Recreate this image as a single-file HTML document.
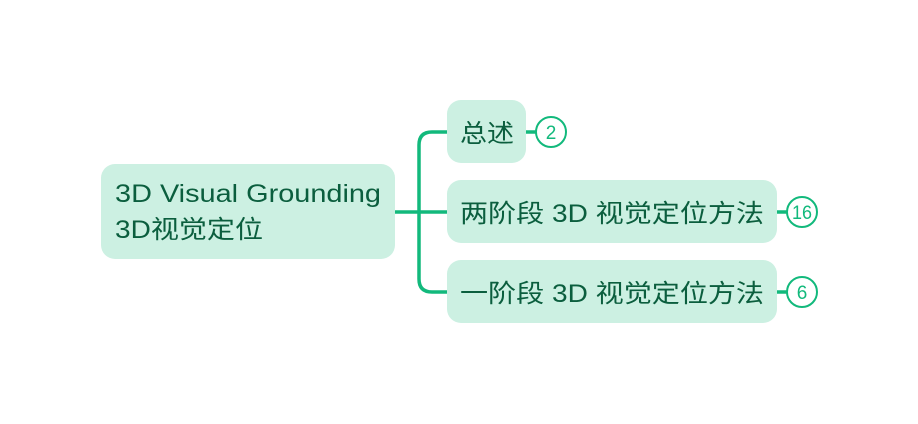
<!DOCTYPE html>
<html><head><meta charset="utf-8"><style>
html,body{margin:0;padding:0;background:#fff;}
svg{display:block}
text{font-family:"Liberation Sans","Noto Sans CJK SC",sans-serif;fill:#0b5e3e;}
</style></head><body>
<svg width="918" height="424" viewBox="0 0 918 424" xmlns="http://www.w3.org/2000/svg">
<g fill="none" stroke="#12b97c" stroke-width="3.5">
<path d="M395 212 H447"/>
<path d="M447 132 H432 Q419 132 419 145 V279 Q419 292 432 292 H447"/>
<path d="M526 132 H536"/>
<path d="M777 212 H787"/>
<path d="M777 292 H787"/>
</g>
<rect x="101" y="164" width="294" height="95" rx="14" fill="#ccf0e2"/>
<rect x="447" y="100" width="79" height="63" rx="14" fill="#ccf0e2"/>
<rect x="447" y="180" width="330" height="63" rx="14" fill="#ccf0e2"/>
<rect x="447" y="260" width="330" height="63" rx="14" fill="#ccf0e2"/>
<g fill="#fff" stroke="#12b97c" stroke-width="2">
<circle cx="551" cy="132" r="15"/>
<circle cx="802" cy="212" r="15"/>
<circle cx="802" cy="292" r="15"/>
</g>
<text x="115" y="202" font-size="25" textLength="266" lengthAdjust="spacingAndGlyphs">3D Visual Grounding</text>
<text x="115" y="238" font-size="25" textLength="148" lengthAdjust="spacingAndGlyphs">3D视觉定位</text>
<text x="460" y="142" font-size="25" textLength="54" lengthAdjust="spacingAndGlyphs">总述</text>
<text x="460" y="222" font-size="25" textLength="304" lengthAdjust="spacingAndGlyphs">两阶段 3D 视觉定位方法</text>
<text x="460" y="302" font-size="25" textLength="304" lengthAdjust="spacingAndGlyphs">一阶段 3D 视觉定位方法</text>
<g font-size="19" text-anchor="middle">
<text x="551" y="139" style="fill:#12b97c">2</text>
<text x="802" y="219" style="fill:#12b97c" textLength="20" lengthAdjust="spacingAndGlyphs">16</text>
<text x="802" y="299" style="fill:#12b97c">6</text>
</g>
</svg>
</body></html>
